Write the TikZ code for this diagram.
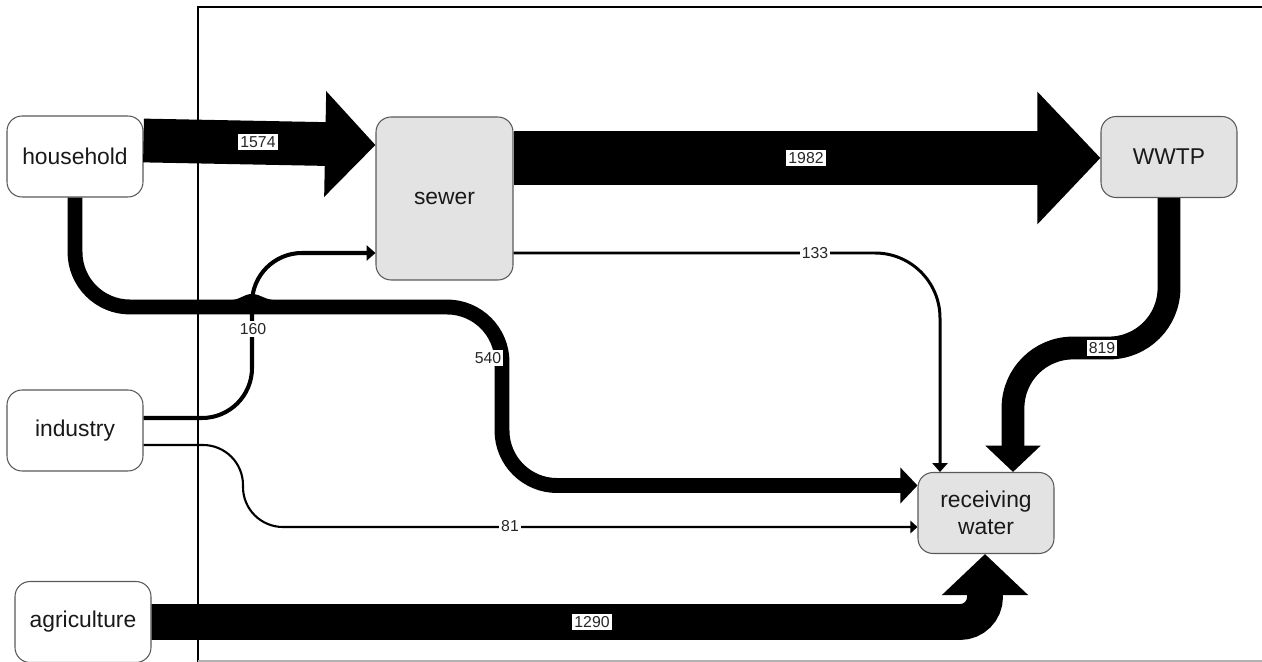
\documentclass[tikz,border=0pt]{standalone}
\usepackage{fontspec}
\setmainfont{Liberation Sans}
\usetikzlibrary{arrows.meta}
\begin{document}
\begin{tikzpicture}[x=0.02cm,y=-0.02cm,
 box/.style={draw=black!65, line width=0.6pt, rounded corners=0.3cm, minimum width=2.72cm, minimum height=1.62cm, align=center, font=\fontsize{13}{15.3}\selectfont, text=black!90, inner sep=0pt},
 src/.style={box, fill=white},
 proc/.style={box, fill=black!11},
 big/.style={draw=black, -{Triangle[length=0pt 1.15, width=0pt 2.35]}},
 thin/.style={draw=black, -{Triangle[length=5pt, width=8.5pt]}},
 lbl/.style={fill=white, inner sep=1.2pt, font=\fontsize{9}{10}\selectfont, text=black!85}]

\useasboundingbox (0,0) rectangle (1262,662);
% frame
\draw[line width=1.1pt] (198,662) -- (198,7) -- (1262,7);
\draw[black!30, line width=0.6pt] (198,661) -- (1262,661);

% nodes
\node[src] (household) at (75,156.5) {household};
\node[src] (industry) at (75,430.5) {industry};
\node[src] (agri) at (83,622) {agriculture};
\node[proc, minimum width=2.74cm, minimum height=3.26cm] (sewer) at (444.5,198.5) {sewer};
\node[proc] (wwtp) at (1169,157) {WWTP};
\node[proc] (recv) at (986,513) {receiving\\water};

% household -> sewer
\draw[big, line width=24.9pt] (household.east |- 0,140.5) -- (sewer.west |- 0,145);
\node[lbl] at (258,142) {1574};

% sewer -> WWTP
\draw[big, line width=31.2pt] (sewer.east |- 0,158) -- (wwtp.west |- 0,158);
\node[lbl] at (806,158) {1982};

% household -> receiving water
\draw[big, line width=8.5pt, rounded corners=1.1cm] (household.south) -- (75,307) -- (502,307) -- (502,485.5) -- (recv.west |- 0,485.5);
\fill (226,300.5) .. controls (241,300.5) and (243,294) .. (252,294) .. controls (261,294) and (264,300.5) .. (280,300.5) -- cycle;
\node[lbl] at (488,358) {540};

% industry -> sewer
\draw[thin, line width=2.3pt, rounded corners=1cm] (industry.east |- 0,418) -- (252,418) -- (252,253) -- (sewer.west |- 0,253);
\node[lbl] at (253,329) {160};

% industry -> receiving water
\draw[thin, line width=1.2pt, -{Triangle[length=4pt,width=7pt]}, rounded corners=0.8cm] (industry.east |- 0,445) -- (243,445) -- (243,527) -- (recv.west |- 0,527);
\node[lbl] at (510,526) {81};

% sewer -> receiving water
\draw[thin, line width=1.7pt, rounded corners=1.3cm] (sewer.east |- 0,253) -- (940,253) -- (recv.north -| 940,0);
\node[lbl] at (815,253) {133};

% WWTP -> receiving water
\draw[big, line width=13pt, rounded corners=1.2cm] (wwtp.south) -- (1169,348) -- (1013,348) -- (recv.north -| 1013,0);
\node[lbl] at (1102,348) {819};

% agriculture -> receiving water
\draw[big, line width=20.4pt, rounded corners=0.5cm] (agri.east |- 0,622) -- (985,622) -- (recv.south -| 985,0);
\node[lbl] at (592,622) {1290};
\end{tikzpicture}
\end{document}
